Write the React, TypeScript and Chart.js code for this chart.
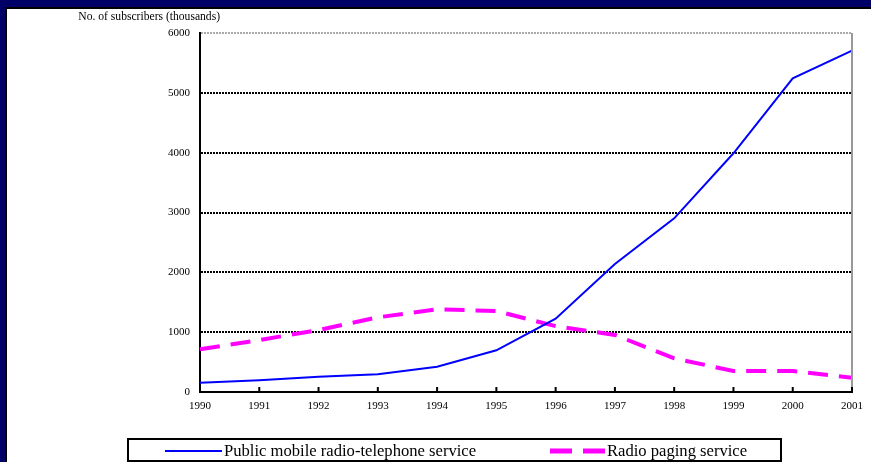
import React, { useEffect, useRef } from "react";
import { Chart, registerables } from "chart.js";

Chart.register(...registerables);

const years = ["1990", "1991", "1992", "1993", "1994", "1995", "1996", "1997", "1998", "1999", "2000", "2001"];
const mobileSubscribers = [155, 195, 256, 296, 423, 697, 1225, 2140, 2903, 3990, 5243, 5705];
const pagingSubscribers = [713, 869, 1036, 1248, 1382, 1354, 1100, 953, 563, 351, 351, 239];
const yTickValues = [0, 1000, 2000, 3000, 4000, 5000, 6000];
const axisTitle = "No. of subscribers (thousands)";
const seriesNames = ["Public mobile radio-telephone service", "Radio paging service"];

const FONT = "'Liberation Serif', 'Times New Roman', serif";

const decorPlugin = {
  id: "decor",
  afterDraw(chart: any) {
    const { ctx, chartArea } = chart;
    const xScale = chart.scales.x;
    ctx.save();
    // right border (grey)
    ctx.strokeStyle = "#999999";
    ctx.lineWidth = 2;
    ctx.beginPath();
    ctx.moveTo(chartArea.right, chartArea.top);
    ctx.lineTo(chartArea.right, chartArea.bottom);
    ctx.stroke();
    // inward tick marks on x axis
    ctx.strokeStyle = "#000000";
    ctx.lineWidth = 2;
    xScale.ticks.forEach((_t: any, i: number) => {
      const x = xScale.getPixelForTick(i);
      ctx.beginPath();
      ctx.moveTo(x, chartArea.bottom);
      ctx.lineTo(x, chartArea.bottom - 5);
      ctx.stroke();
    });
    // axis title
    ctx.fillStyle = "#000000";
    ctx.font = `11.6px ${FONT}`;
    ctx.textAlign = "right";
    ctx.textBaseline = "alphabetic";
    ctx.fillText(axisTitle, chartArea.left + 20, 20);
    // legend box
    const boxTop = chart.height - 23;
    const boxLeft = 128;
    const boxRight = 781;
    ctx.lineWidth = 2;
    ctx.strokeStyle = "#000000";
    ctx.strokeRect(boxLeft, boxTop, boxRight - boxLeft, 22);
    const itemY = boxTop + 12;
    const items = [
      { x: 165, w: 57 },
      { x: 550, w: 55 },
    ];
    chart.data.datasets.forEach((ds: any, i: number) => {
      const it = items[i];
      ctx.save();
      ctx.strokeStyle = ds.borderColor;
      ctx.lineWidth = i === 0 ? 2 : 5;
      ctx.setLineDash(i === 0 ? [] : [22, 11]);
      ctx.beginPath();
      ctx.moveTo(it.x, itemY);
      ctx.lineTo(it.x + it.w, itemY);
      ctx.stroke();
      ctx.restore();
      ctx.fillStyle = "#000000";
      ctx.font = `16.6px ${FONT}`;
      ctx.textAlign = "left";
      ctx.textBaseline = "alphabetic";
      ctx.fillText(ds.label, it.x + it.w + 2, boxTop + 17);
    });
    ctx.restore();
  },
};

export default function App() {
  const canvasRef = useRef<HTMLCanvasElement | null>(null);

  useEffect(() => {
    if (!canvasRef.current) return;
    const chart = new Chart(canvasRef.current, {
      type: "line",
      data: {
        labels: years,
        datasets: [
          {
            label: seriesNames[0],
            data: mobileSubscribers,
            borderColor: "#0000ff",
            borderWidth: 2,
            pointRadius: 0,
            tension: 0,
            fill: false,
          },
          {
            label: seriesNames[1],
            data: pagingSubscribers,
            borderColor: "#ff00ff",
            borderWidth: 4,
            borderDash: [20, 11],
            pointRadius: 0,
            tension: 0,
            fill: false,
          },
        ],
      },
      options: {
        animation: false,
        responsive: false,
        maintainAspectRatio: false,
        layout: { padding: { top: 33, right: 15, left: 0, bottom: 0 } },
        plugins: {
          legend: { display: false },
          tooltip: { enabled: false },
          title: { display: false },
        },
        scales: {
          x: {
            type: "category",
            offset: false,
            grid: { display: false, drawTicks: false },
            border: { display: true, color: "#000000", width: 2 },
            ticks: {
              color: "#000000",
              font: { family: FONT, size: 11 },
              padding: 8,
              maxRotation: 0,
              autoSkip: false,
            },
            afterFit: (scale: any) => {
              scale.height = 70;
            },
          },
          y: {
            type: "linear",
            min: 0,
            max: 6000,
            afterBuildTicks: (scale: any) => {
              scale.ticks = yTickValues.map((v) => ({ value: v }));
            },
            grid: {
              drawTicks: false,
              lineWidth: 2,
              color: (c: any) => (c.tick && c.tick.value === 6000 ? "#aaaaaa" : c.tick && c.tick.value === 0 ? "rgba(0,0,0,0)" : "#000000"),
            },
            border: { display: true, color: "#000000", width: 2, dash: [2, 1] },
            ticks: {
              color: "#000000",
              font: { family: FONT, size: 11 },
              padding: 10,
              callback: (v: any) => String(v),
            },
            afterFit: (scale: any) => {
              scale.width = 200;
            },
          },
        },
      },
      plugins: [decorPlugin],
    });
    return () => chart.destroy();
  }, []);

  return (
    <div style={{ position: "fixed", left: 0, top: 0, width: 871, height: 462, background: "#000066", overflow: "hidden" }}>
      <div
        style={{
          position: "absolute",
          left: 5,
          top: 7,
          right: 0,
          bottom: 0,
          background: "#ffffff",
          borderTop: "2px solid #000000",
          borderLeft: "2px solid #000000",
        }}
      />
      <canvas ref={canvasRef} width={871} height={462} style={{ position: "absolute", left: 0, top: 0, width: 871, height: 462 }} />
    </div>
  );
}
